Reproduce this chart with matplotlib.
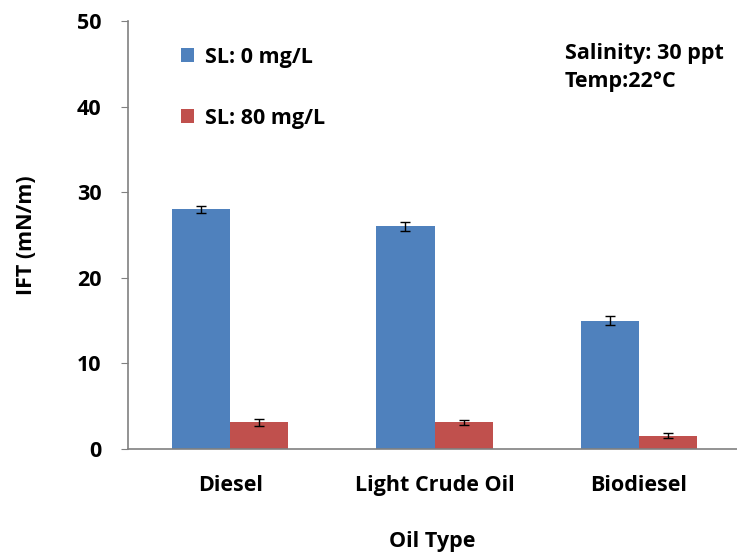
import matplotlib
matplotlib.use("Agg")
import matplotlib.pyplot as plt
import numpy as np

# IFT measurements per oil type, with and without surfactant loading
oil_types = ["Diesel", "Light Crude Oil", "Biodiesel"]
ift_sl0 = [28.0, 26.0, 15.0]
ift_sl0_err = [0.4, 0.55, 0.5]
ift_sl80 = [3.1, 3.1, 1.55]
ift_sl80_err = [0.45, 0.3, 0.27]
series_labels = ["SL: 0 mg/L", "SL: 80 mg/L"]
yticks = [0, 10, 20, 30, 40, 50]

plt.rcParams['font.family'] = ['Open Sans', 'DejaVu Sans']
plt.rcParams['font.weight'] = 'bold'
FS = 15.5

W, H = 737, 552
fig = plt.figure(figsize=(W / 100, H / 100), dpi=100)
ax = fig.add_axes([128 / W, 1 - 449 / H, (W - 128) / W, (449 - 21) / H])

x = np.arange(len(oil_types))
w = 0.285
blue = "#4F81BD"
red = "#C0504D"
err_kw = dict(ecolor="black", elinewidth=1.0, capsize=3.5, capthick=1.0)

b1 = ax.bar(x - w / 2, ift_sl0, w, color=blue, yerr=ift_sl0_err,
            error_kw=err_kw, label=series_labels[0], zorder=2)
b2 = ax.bar(x + w / 2, ift_sl80, w, color=red, yerr=ift_sl80_err,
            error_kw=err_kw, label=series_labels[1], zorder=2)

ax.set_xlim(-0.5, 2.48)
ax.set_ylim(0, 50)
ax.set_yticks(yticks)
ax.set_yticklabels([str(t) for t in yticks], fontsize=FS, fontweight='bold')
ax.set_xticks(x)
ax.set_xticklabels(oil_types, fontsize=FS, fontweight='bold')

for s in ["top", "right"]:
    ax.spines[s].set_visible(False)
for s in ["left", "bottom"]:
    ax.spines[s].set_color("#808080")
    ax.spines[s].set_linewidth(1.2)
ax.tick_params(axis='y', direction='out', length=5, color="#808080", pad=14)
ax.tick_params(axis='x', length=0, pad=19)

ax.set_ylabel("IFT (mN/m)", fontsize=FS, fontweight='bold', va='center')
ax.yaxis.set_label_coords(-(128 - 27) / (W - 128), 0.5)
ax.set_xlabel("Oil Type", fontsize=FS, fontweight='bold', va='center')
ax.xaxis.set_label_coords(0.5, -(541 - 449) / (449 - 21))

ax.legend(handles=[b1, b2], loc="upper left", bbox_to_anchor=(0.055, 0.985),
          frameon=False, handlelength=0.6, handleheight=0.6,
          handletextpad=0.5, labelspacing=1.85, prop={'weight': 'bold', 'size': FS})

ax.text((565 - 128) / (W - 128), (449 - 53) / (449 - 21), "Salinity: 30 ppt",
        transform=ax.transAxes, fontsize=FS, fontweight='bold', va='center', ha='left')
ax.text((565 - 128) / (W - 128), (449 - 82) / (449 - 21), "Temp:22°C",
        transform=ax.transAxes, fontsize=FS, fontweight='bold', va='center', ha='left')

fig.savefig("out.png", dpi=100)
